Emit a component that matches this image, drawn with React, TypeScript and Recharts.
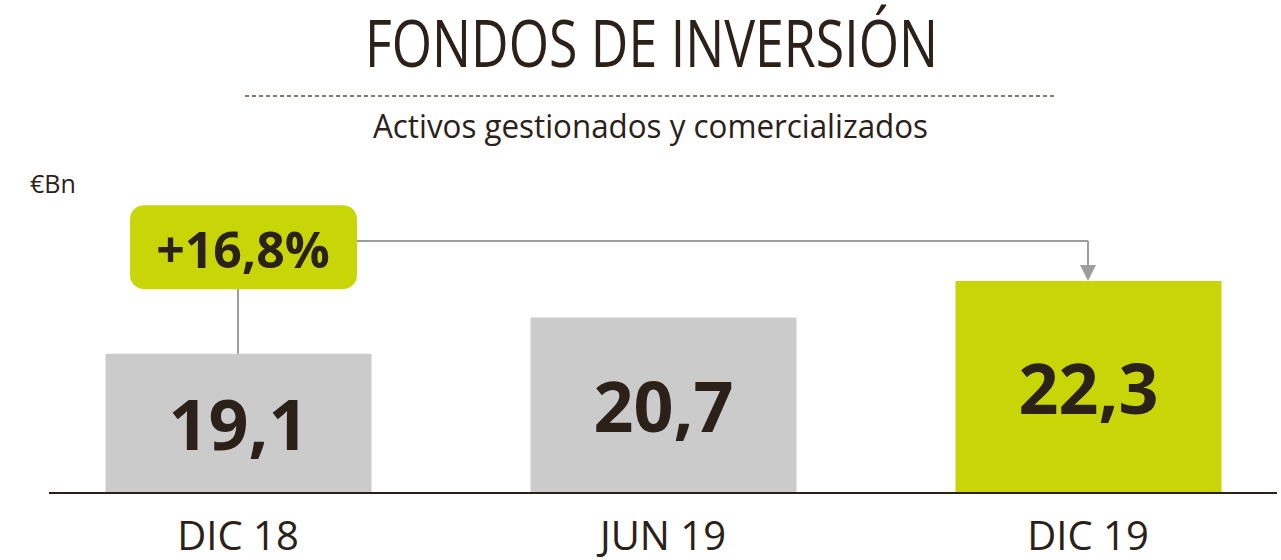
import { BarChart, Bar, XAxis, YAxis, Cell, LabelList, ReferenceLine, ReferenceDot } from 'recharts';

const title = 'FONDOS DE INVERSIÓN';
const subtitle = 'Activos gestionados y comercializados';
const unit = '€Bn';

const categories = ['DIC 18', 'JUN 19', 'DIC 19'];
const values = [19.1, 20.7, 22.3];
const valueLabels = ['19,1', '20,7', '22,3'];
const highlighted = [false, false, true];
const growthLabel = '+16,8%';

// annotation heights, in data units
const yDomain: [number, number] = [13, 26];
const connectorY = 24.05;
const badgeY = 23.78;

const data = categories.map((c, i) => ({ period: c, value: values[i], label: valueLabels[i] }));

const INK = '#2b2118';
const GREEN = '#c8d608';
const GREY = '#cbcbcb';
const LINE = '#9d9d9d';
const FONT = '"Open Sans", sans-serif';

const ValueLabel = (props: any) => {
  const { x, y, width, height, index } = props;
  return (
    <text
      x={x + width / 2}
      y={y + height / 2 + 27}
      textAnchor="middle"
      fontFamily={FONT}
      fontWeight={700}
      fontSize={70}
      fill={INK}
    >
      {valueLabels[index]}
    </text>
  );
};

const Tick = ({ x, y, payload }: any) => (
  <text x={x} y={y + 57} textAnchor="middle" fontFamily={FONT} fontSize={40} fill={INK}>
    {payload.value}
  </text>
);

const Arrow = ({ x1, y1, x2, y2 }: any) => (
  <g>
    <line x1={x1} y1={y1} x2={x2} y2={y2 - 14} stroke={LINE} strokeWidth={2} />
    <path d={`M${x2 - 8},${y2 - 16} L${x2 + 8},${y2 - 16} L${x2},${y2} Z`} fill={LINE} />
  </g>
);

const Badge = ({ cx, cy }: any) => (
  <g>
    <rect x={cx - 108} y={cy - 42} width={227} height={84} rx={14} fill={GREEN} />
    <text
      x={cx + 5}
      y={cy + 21}
      textAnchor="middle"
      fontFamily={FONT}
      fontWeight={700}
      fontSize={50}
      fill={INK}
    >
      {growthLabel}
    </text>
  </g>
);

export default function App() {
  return (
    <div style={{ position: 'absolute', left: 0, top: 0, width: 1281, height: 560, background: '#fff' }}>
      <BarChart
        width={1281}
        height={560}
        data={data}
        margin={{ top: 196.5, right: 4, bottom: 7, left: 49 }}
      >
        <XAxis
          dataKey="period"
          height={60}
          padding={{ left: -23.5, right: -23.5 }}
          axisLine={{ stroke: INK, strokeWidth: 2 }}
          tickLine={false}
          tickSize={0}
          tickMargin={0}
          tick={<Tick />}
        />
        <YAxis hide domain={yDomain} allowDataOverflow />
        <Bar dataKey="value" barSize={266} isAnimationActive={false}>
          {data.map((d, i) => (
            <Cell key={d.period} fill={highlighted[i] ? GREEN : GREY} />
          ))}
          <LabelList dataKey="label" content={<ValueLabel />} />
        </Bar>
        <ReferenceLine
          segment={[
            { x: categories[0], y: badgeY },
            { x: categories[0], y: values[0] },
          ]}
          stroke={LINE}
          strokeWidth={2}
        />
        <ReferenceLine
          segment={[
            { x: categories[0], y: connectorY },
            { x: categories[2], y: connectorY },
          ]}
          stroke={LINE}
          strokeWidth={2}
        />
        <ReferenceLine
          segment={[
            { x: categories[2], y: connectorY },
            { x: categories[2], y: values[2] },
          ]}
          shape={<Arrow />}
        />
        <ReferenceDot x={categories[0]} y={badgeY} r={1} shape={<Badge />} />
      </BarChart>
      <svg
        width={1281}
        height={200}
        style={{ position: 'absolute', left: 0, top: 0, pointerEvents: 'none' }}
      >
        <text
          x={651.5}
          y={67}
          textAnchor="middle"
          fontFamily={FONT}
          fontWeight={500}
          fontSize={65}
          fill={INK}
          textLength={573}
          lengthAdjust="spacingAndGlyphs"
        >
          {title}
        </text>
        <line x1={245} y1={96} x2={1057} y2={96} stroke="#8a7b6c" strokeWidth={2} strokeDasharray="4 3" />
        <text
          x={650.5}
          y={138}
          textAnchor="middle"
          fontFamily={FONT}
          fontSize={32}
          fill={INK}
          textLength={555}
          lengthAdjust="spacingAndGlyphs"
        >
          {subtitle}
        </text>
        <text x={30} y={193} fontFamily={FONT} fontSize={25} fill={INK}>
          {unit}
        </text>
      </svg>
    </div>
  );
}
